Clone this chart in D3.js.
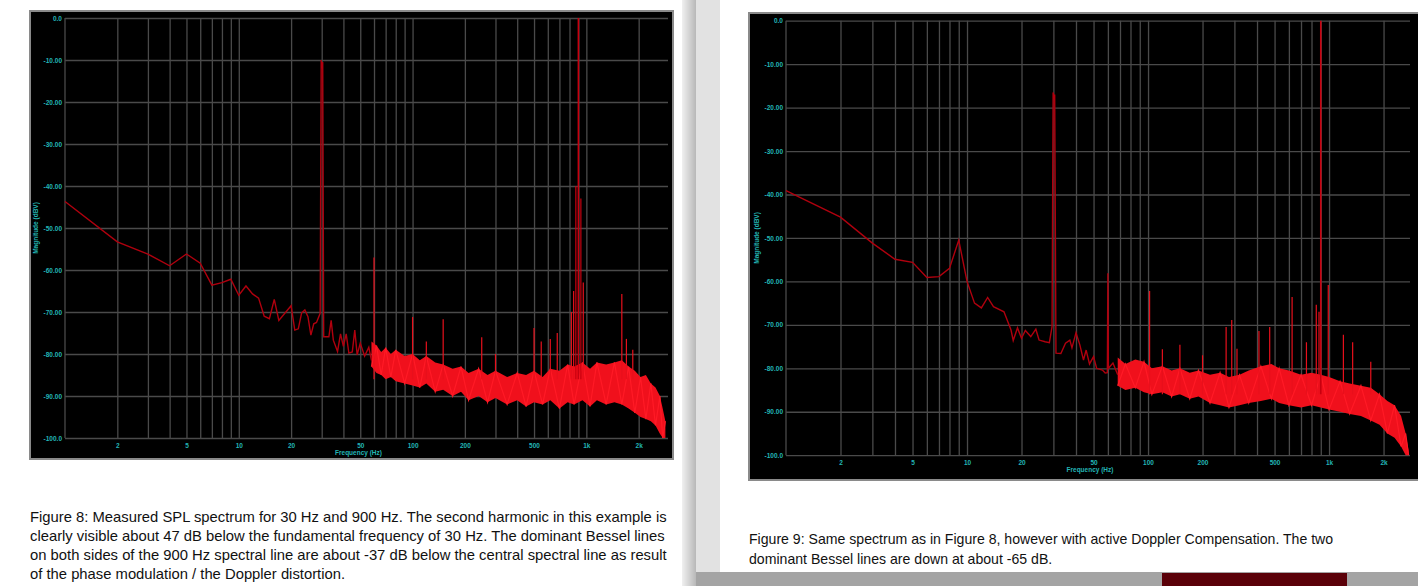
<!DOCTYPE html>
<html><head><meta charset="utf-8">
<script src="https://cdn.jsdelivr.net/npm/d3@7"></script>
<style>body{margin:0;width:1418px;height:586px;overflow:hidden;background:#fff;font-family:"Liberation Sans",Arial,sans-serif}</style>
</head><body><svg id="s" width="1418" height="586"></svg>
<script>
const yTicks=[0,-10,-20,-30,-40,-50,-60,-70,-80,-90,-100];
const yTickLabels=["0.0","-10.00","-20.00","-30.00","-40.00","-50.00","-60.00","-70.00","-80.00","-90.00","-100.0"];
const xTicks=[2,5,10,20,50,100,200,500,1000,2000];
const xTickLabels=["2","5","10","20","50","100","200","500","1k","2k"];
const gridFreqs=[2,3,4,5,6,7,8,9,10,20,30,40,50,60,70,80,90,100,200,300,400,500,600,700,800,900,1000,2000];
// Figure 8 (left)
const lowA=[[1,-43.7],[2,-53.3],[3,-56.2],[4,-59],[5,-56.2],[6,-58.4],[7,-63.6],[8,-63],[9,-62.2],[10,-66],[11,-63.8],[12,-65.7],[13,-66.7],[14,-71],[15,-71.6],[16,-67],[17,-72],[20,-68.5],[21,-74.3],[22,-74],[23,-70.2],[24,-69.5],[25,-71.1],[26,-75.5],[27,-72.8],[28,-72.5],[29.4,-70.3],[29.8,-10],[30.1,-12],[30.4,-10.5],[30.8,-75.9],[33,-75.9],[34,-72],[35,-76.7],[37,-79.4],[38.5,-75.2],[40,-78.2],[41.5,-75.2],[43,-79.8],[45,-79.5],[46.5,-74.3],[48,-80.2],[50,-77.4],[53,-80.5],[56,-78.4],[58,-81.5]];
const bandFA=[58,62,66,70,75,80,90,100,110,120,135,150,170,190,210,240,270,300,350,400,450,500,560,620,700,780,850,950,1050,1150,1300,1450,1600,1750,1900,2050,2200,2350,2500,2650,2750,2850];
const bandTopA=[-77,-78,-79.5,-78.5,-80,-79,-80.5,-80,-81.5,-80.5,-82,-82.5,-83.5,-83,-84.5,-83.5,-85,-84,-85.5,-84.5,-85,-84,-85.5,-83.5,-84,-82.5,-83,-82,-83.5,-82,-82.5,-82,-81.5,-83,-84,-85.5,-85,-87,-88,-90,-93,-96];
const bandBotA=[-83,-84.5,-85,-86,-85.5,-86.5,-87,-87.5,-88,-87,-89,-88.5,-90,-89,-91,-90,-91.5,-90.5,-92,-91,-92.5,-91.5,-92,-91,-93,-91.5,-92,-91,-92.5,-91,-92,-91.5,-92,-93,-94,-95,-95.5,-96,-97,-99,-100,-100];
const spikeFA=[60,100,120,150,250,300,500,550,620,680,820,845,870,900,930,960,1600,1700,1850];
const spikeDbA=[-57,-71.2,-77,-71.7,-76,-80,-73.8,-77,-76.4,-75,-70,-65,-40,0,-43,-63,-65.7,-76.4,-79];
// Figure 9 (right)
const lowB=[[1,-39.1],[2,-45.2],[3,-51.2],[4,-54.9],[5,-55.6],[6,-59.1],[7,-58.9],[8,-57],[9,-50.5],[10,-60],[11,-65],[12,-66.1],[13,-63.7],[14,-65.8],[16,-67],[17.5,-71.2],[18,-73.6],[19,-70.7],[20,-73.1],[21,-71.3],[22.5,-72.7],[24,-71],[25,-73.5],[27,-73.9],[28.5,-74.1],[29.5,-70.4],[29.9,-16.5],[30.2,-18],[30.5,-17],[31,-76.5],[33,-76.6],[35,-74.2],[37,-73.5],[38,-75.3],[40,-71.8],[42,-74.6],[44,-78.1],[45.5,-75.8],[47.5,-79],[50,-77.3],[52,-80],[56,-80.4],[58,-81.1],[59.6,-81],[60,-58.1],[60.4,-80],[64,-78.8],[68,-81.5]];
const bandFB=[68,75,85,95,105,120,135,150,170,190,220,250,280,320,360,420,480,530,600,700,800,900,1000,1150,1300,1500,1700,1900,2100,2300,2500,2650,2750];
const bandTopB=[-77.5,-79,-78,-78.5,-80,-79.5,-80.5,-80,-81,-80.5,-81.5,-81,-82,-81.5,-80.5,-79.5,-79,-80,-80.5,-81.5,-81,-81.5,-82,-83,-83.5,-84,-84.5,-86,-87.5,-88.5,-91,-95,-99];
const bandBotB=[-84,-85,-84.5,-85.5,-86,-85.5,-86.5,-86,-87,-86.5,-88,-88.5,-89,-88.5,-88,-87.5,-87,-88,-88.5,-89,-88.5,-89,-89.5,-90,-90.5,-91,-92,-93,-95,-96,-98,-100,-100];
const spikeFB=[102,120,150,200,270,290,310,410,470,625,750,850,880,900,990,1200,1350,1700];
const spikeDbB=[-62.2,-75.6,-74.6,-77,-70.5,-68.9,-75.5,-71.4,-70.5,-63.6,-74,-65.4,-67,0,-60.8,-72.3,-74,-78.5];

const svg=d3.select("#s");
svg.append("rect").attr("x",0).attr("y",0).attr("width",682).attr("height",586).attr("fill","#fff");
const g0=svg.append("defs").append("linearGradient").attr("id","sh");
g0.append("stop").attr("offset","0").attr("stop-color","#f0f0f0");
g0.append("stop").attr("offset","1").attr("stop-color","#b8b8b8");
svg.append("rect").attr("x",682).attr("y",0).attr("width",14).attr("height",586).attr("fill","url(#sh)");
svg.append("rect").attr("x",696).attr("y",572).attr("width",722).attr("height",14).attr("fill","#a4a4a4");
svg.append("rect").attr("x",1162).attr("y",573).attr("width",185).attr("height",13).attr("fill","#5a0008");
svg.append("rect").attr("x",696).attr("y",0).attr("width",722).attr("height",572).attr("fill","#fff");
svg.append("rect").attr("x",696).attr("y",0).attr("width",24).attr("height",572).attr("fill","#e2e2e2");

function chart(o){
  const x=d3.scaleLog().domain([1,o.fmax]).range([o.pl,o.pr]);
  const y=d3.scaleLinear().domain([0,-100]).range([o.pt,o.pb]);
  svg.append("rect").attr("x",o.ox).attr("y",o.oy).attr("width",o.ow).attr("height",o.oh).attr("fill","#000").attr("stroke","#8a8a8a").attr("stroke-width",2);
  const g=svg.append("g");
  const c="#22b5b5", gc="#4a4a4a";
  g.append("g").attr("transform",`translate(0,${o.pb})`).call(d3.axisBottom(x).tickValues(gridFreqs).tickSize(-(o.pb-o.pt)).tickFormat(""))
   .call(a=>{a.select(".domain").remove();a.selectAll("line").attr("stroke",gc).attr("stroke-width",1.3);});
  g.append("g").attr("transform",`translate(${o.pl},0)`).call(d3.axisLeft(y).tickValues(yTicks).tickSize(-(o.pr-o.pl)).tickFormat((d,i)=>yTickLabels[i]).tickPadding(3))
   .call(a=>{a.select(".domain").remove();a.selectAll("line").attr("stroke",gc).attr("stroke-width",1.3);
     a.selectAll("text").attr("fill",c).attr("font-size",6.5).attr("font-weight","bold").attr("font-family","Liberation Sans,Arial");});
  g.append("line").attr("x1",o.pl).attr("x2",o.pl).attr("y1",o.pt).attr("y2",o.pb).attr("stroke",gc).attr("stroke-width",1.3);
  g.append("g").attr("transform",`translate(0,${o.pb})`).call(d3.axisBottom(x).tickValues(xTicks).tickSize(0).tickPadding(5).tickFormat((d,i)=>xTickLabels[i]))
   .call(a=>{a.select(".domain").remove();a.selectAll("text").attr("fill",c).attr("font-size",6.5).attr("font-weight","bold").attr("font-family","Liberation Sans,Arial");});
  g.append("text").attr("x",(o.pl+o.pr)/2-8).attr("y",o.pb+17).attr("text-anchor","middle").attr("fill",c).attr("font-size",6.5).attr("font-weight","bold").text("Frequency (Hz)");
  g.append("text").attr("transform",`translate(${o.pl-27},${(o.pt+o.pb)/2}) rotate(-90)`).attr("text-anchor","middle").attr("fill",c).attr("font-size",6.5).attr("font-weight","bold").text("Magnitude (dBV)");
  const bd=o.bf.map((f,i)=>({f,t:o.bt[i],b:o.bb[i]}));
  g.append("path").datum(bd).attr("d",d3.area().x(d=>x(d.f)).y0(d=>y(d.b)).y1(d=>y(d.t))).attr("fill","#f0101c");
  const zig=[];bd.forEach((d,i)=>{zig.push([d.f,i%2?d.t:d.b]);});
  g.append("path").datum(zig).attr("d",d3.line().x(d=>x(d[0])).y(d=>y(d[1]))).attr("fill","none").attr("stroke","#ff1a26").attr("stroke-width",1.2);
  o.sf.forEach((f,i)=>{
    g.append("line").attr("x1",x(f)).attr("x2",x(f)).attr("y1",y(-86)).attr("y2",y(o.sd[i])).attr("stroke",o.sd[i]>-45?"#c8000f":"#e8101c").attr("stroke-width",o.sd[i]>-1?1.6:1.2);
  });
  g.append("path").datum(o.low).attr("d",d3.line().x(d=>x(d[0])).y(d=>y(d[1]))).attr("fill","none").attr("stroke","#b0000e").attr("stroke-width",1.4);
}
chart({ox:30,oy:11,ow:643,oh:448,pl:65,pr:668,pt:18,pb:438,fmax:2950,low:lowA,bf:bandFA,bt:bandTopA,bb:bandBotA,sf:spikeFA,sd:spikeDbA});
chart({ox:749,oy:13,ow:680,oh:467,pl:786,pr:1410,pt:20.7,pb:455.2,fmax:2800,low:lowB,bf:bandFB,bt:bandTopB,bb:bandBotB,sf:spikeFB,sd:spikeDbB});

const capA=["Figure 8: Measured SPL spectrum for 30 Hz and 900 Hz. The second harmonic in this example is","clearly visible about 47 dB below the fundamental frequency of 30 Hz. The dominant Bessel lines","on both sides of the 900 Hz spectral line are about -37 dB below the central spectral line as result","of the phase modulation / the Doppler distortion."];
const capB=["Figure 9: Same spectrum as in Figure 8, however with active Doppler Compensation. The two","dominant Bessel lines are down at about -65 dB."];
svg.selectAll(".ca").data(capA).join("text").attr("x",30).attr("y",(d,i)=>522+i*19).attr("font-size",14.8).attr("fill","#111").text(d=>d);
svg.selectAll(".cb").data(capB).join("text").attr("x",749).attr("y",(d,i)=>544+i*20).attr("font-size",14.1).attr("fill","#111").text(d=>d);
</script></body></html>
